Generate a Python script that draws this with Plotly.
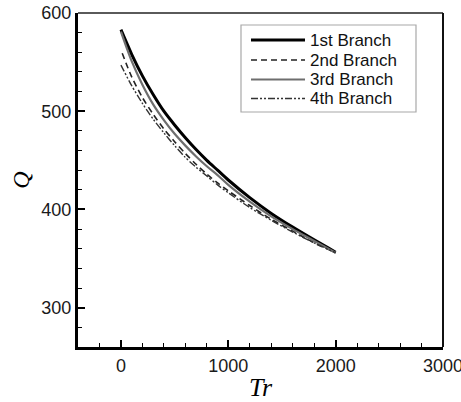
import plotly.graph_objects as go

# Branch curves: Q against Tr
tr_1 = [0, 100, 200, 300, 400, 500, 600, 700, 800, 900, 1000, 1200, 1400, 1600, 1800, 2000]
q_1 = [583, 558, 536, 517, 500, 486, 473, 461, 450, 440, 430, 412, 396, 382, 369, 356.5]

tr_2 = [12, 100, 200, 300, 400, 500, 600, 700, 800, 900, 1000, 1200, 1400, 1600, 1800, 2000]
q_2 = [559, 535, 514, 497, 482, 469, 457, 446, 436, 427, 419, 404, 390, 378, 366, 356]

tr_3 = [0, 100, 200, 300, 400, 500, 600, 700, 800, 900, 1000, 1200, 1400, 1600, 1800, 2000]
q_3 = [581, 551, 527, 507, 491, 477, 465, 454, 444, 435, 425, 408, 393, 380, 368, 356]

tr_4 = [0, 100, 200, 300, 400, 500, 600, 700, 800, 900, 1000, 1200, 1400, 1600, 1800, 2000]
q_4 = [547, 526, 508, 492, 478, 465, 453, 443, 434, 425, 417, 402, 389, 377, 366, 356]

names = ["1st Branch", "2nd Branch", "3rd Branch", "4th Branch"]
xs = [tr_1, tr_2, tr_3, tr_4]
ys = [q_1, q_2, q_3, q_4]

x_ticks = [0, 1000, 2000, 3000]
y_ticks = [300, 400, 500, 600]

styles = [
    dict(color="#000000", width=3, dash="solid"),
    dict(color="#222222", width=1.6, dash="6px,4px"),
    dict(color="#6e6e6e", width=2.2, dash="solid"),
    dict(color="#333333", width=1.4, dash="7px,2px,2px,2px,2px,2px"),
]

fig = go.Figure()
for name, x, y, st in zip(names, xs, ys, styles):
    fig.add_trace(go.Scatter(x=x, y=y, mode="lines", name=name,
                             line=dict(shape="spline", smoothing=0.8, **st),
                             showlegend=False))

W, H = 461, 402
ml, mr, mt, mb = 78, 18, 13, 55
pw, ph = W - ml - mr, H - mt - mb

def px_to_paper(px, py):
    return (px - ml) / pw, (H - mb - py) / ph

# Boxed key in the upper right
shapes = []
annotations = []
bx0, by0 = px_to_paper(241, 25)
bx1, by1 = px_to_paper(416, 112)
shapes.append(dict(type="rect", xref="paper", yref="paper", x0=bx0, y0=by1, x1=bx1, y1=by0,
                   line=dict(color="#a8a8a8", width=1.2), fillcolor="white", layer="above"))
row_y = [40, 60, 79.5, 98.5]
for name, st, ry in zip(names, styles, row_y):
    lx0, ly = px_to_paper(251, ry)
    lx1, _ = px_to_paper(305, ry)
    shapes.append(dict(type="line", xref="paper", yref="paper", x0=lx0, x1=lx1, y0=ly, y1=ly,
                       line=dict(color=st["color"], width=st["width"], dash=st["dash"]),
                       layer="above"))
    tx, _ = px_to_paper(309, ry)
    annotations.append(dict(xref="paper", yref="paper", x=tx, y=ly, text=name, showarrow=False,
                            xanchor="left", yanchor="middle", borderpad=0,
                            font=dict(family="Liberation Sans, Arial", size=17, color="#111111")))

# Frame: heavy left/bottom axes, lighter top and right edges
shapes.append(dict(type="line", xref="paper", yref="paper", x0=0, x1=1, y0=1, y1=1,
                   line=dict(color="#5a5a5a", width=2), layer="above"))
shapes.append(dict(type="line", xref="paper", yref="paper", x0=1, x1=1, y0=0, y1=1,
                   line=dict(color="#111111", width=2), layer="above"))

tick_font = dict(family="Liberation Sans, Arial", size=18, color="#1a1a1a")

fig.update_layout(
    width=W, height=H,
    margin=dict(l=ml, r=mr, t=mt, b=mb, pad=0),
    paper_bgcolor="white", plot_bgcolor="white",
    shapes=shapes, annotations=annotations,
    xaxis=dict(range=[-400, 3000], tickvals=x_ticks, showgrid=False, zeroline=False,
               automargin=False, ticklabeloverflow="allow",
               showline=True, linecolor="black", linewidth=3,
               ticks="inside", ticklen=7, tickwidth=1.5, tickcolor="black",
               minor=dict(dtick=200, tick0=0, ticks="inside", ticklen=4, tickwidth=1, tickcolor="black", showgrid=False),
               tickfont=tick_font,
               title=dict(text="<i>Tr</i>", font=dict(family="Liberation Serif, Times New Roman", size=26, color="black"),
                          standoff=10)),
    yaxis=dict(range=[260, 600], tickvals=y_ticks, showgrid=False, zeroline=False,
               automargin=False, ticklabeloverflow="allow",
               showline=True, linecolor="black", linewidth=3,
               ticks="inside", ticklen=7, tickwidth=1.5, tickcolor="black",
               minor=dict(dtick=20, tick0=0, ticks="inside", ticklen=4, tickwidth=1, tickcolor="black", showgrid=False),
               tickfont=tick_font,
               title=dict(text="<i>Q</i>", font=dict(family="Liberation Serif, Times New Roman", size=24, color="black"),
                          standoff=5)),
)

fig.write_html("out.html")
